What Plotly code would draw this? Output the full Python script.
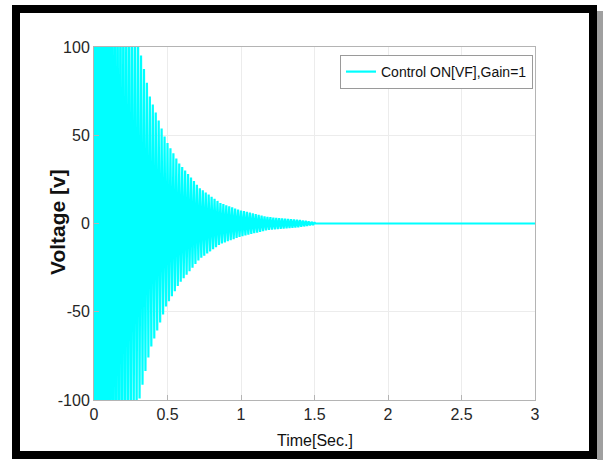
import numpy as np
import plotly.graph_objects as go

# ---- data ----
# decay envelope of the oscillating voltage (amplitude in V vs time in s)
env_t = [0.0, 0.1, 0.2, 0.3, 0.38, 0.49, 0.58, 0.72, 0.86, 0.99, 1.18, 1.40, 1.50]
env_a = [300, 205, 145, 103, 72, 47, 34, 20, 11.6, 7.6, 3.7, 2.0, 0.7]
carrier_hz = 50          # oscillation frequency (about 3 px per cycle)
t_end_osc = 1.5          # oscillation dies out here
t_end = 3.0              # end of record
steady_value = 0.0

x_ticks = [0, 0.5, 1, 1.5, 2, 2.5, 3]
x_ticktext = ["0", "0.5", "1", "1.5", "2", "2.5", "3"]
y_ticks = [-100, -50, 0, 50, 100]
y_ticktext = ["-100", "-50", "0", "50", "100"]
series_name = "Control ON[VF],Gain=1"
x_title = "Time[Sec.]"
y_title = "Voltage [v]"

# ---- build the waveform: alternating peaks every half cycle ----
half = 1.0 / (2 * carrier_hz)
n_half = int(round(t_end_osc / half))
tk = np.arange(n_half + 1) * half
amp = np.interp(tk, env_t, env_a)
vk = amp * np.where(np.arange(n_half + 1) % 2 == 0, 1, -1)
t = np.concatenate([tk, [t_end_osc + 0.005, t_end]])
v = np.concatenate([vk, [steady_value, steady_value]])

# ---- layout geometry (pixels) ----
W, H = 615, 460
L, R, T, B = 94, 535, 47, 400
pw, ph = R - L, B - T


def px(x):
    return (x - L) / pw


def py(y):
    return (B - y) / ph


FONT = "Liberation Sans Narrow, Arial Narrow, Liberation Sans, Arial, sans-serif"

fig = go.Figure()
fig.add_trace(go.Scatter(
    x=t, y=v, mode="lines", name=series_name,
    line=dict(color="#00FFFF", width=2.2, simplify=False),
))

axis_common = dict(
    showline=True, linecolor="#b4b4b4", linewidth=1, mirror=True,
    showgrid=True, gridcolor="#ececec", gridwidth=1,
    zeroline=False, ticks="inside", ticklen=5, tickcolor="#b4b4b4",
    tickfont=dict(family=FONT, size=16, color="#262626"),
    automargin=False,
)

fig.update_layout(
    width=W, height=H,
    margin=dict(l=L, r=W - R, t=T, b=H - B),
    paper_bgcolor="white", plot_bgcolor="white",
    showlegend=True,
    legend=dict(
        x=px(533), y=py(55), xanchor="right", yanchor="top",
        bgcolor="white", bordercolor="#9a9a9a", borderwidth=1,
        font=dict(family=FONT, size=14, color="#111111"),
        itemwidth=30, tracegroupgap=0,
    ),
    xaxis=dict(range=[0, 3], tickvals=x_ticks, ticktext=x_ticktext, **axis_common),
    yaxis=dict(range=[-100, 100], tickvals=y_ticks, ticktext=y_ticktext, **axis_common),
    annotations=[
        dict(text=x_title, xref="paper", yref="paper", x=0.5, y=py(440),
             xanchor="center", yanchor="middle", showarrow=False,
             font=dict(family=FONT, size=16, color="#111111")),
        dict(text="<b>" + y_title + "</b>", xref="paper", yref="paper",
             x=px(57), y=py(222), xanchor="center", yanchor="middle",
             textangle=-90, showarrow=False,
             font=dict(family="Liberation Sans, Arial, sans-serif", size=21, color="#111111")),
    ],
    shapes=[
        # drop shadow on the right
        dict(type="rect", xref="paper", yref="paper",
             x0=px(597), x1=px(603), y0=py(460), y1=py(11),
             fillcolor="#a0a0a0", line=dict(width=0), layer="below"),
        # thick black frame
        dict(type="rect", xref="paper", yref="paper",
             x0=px(16), x1=px(593), y0=py(455), y1=py(9),
             line=dict(color="black", width=8), fillcolor="rgba(0,0,0,0)"),
    ],
)

fig.write_html("out.html")
